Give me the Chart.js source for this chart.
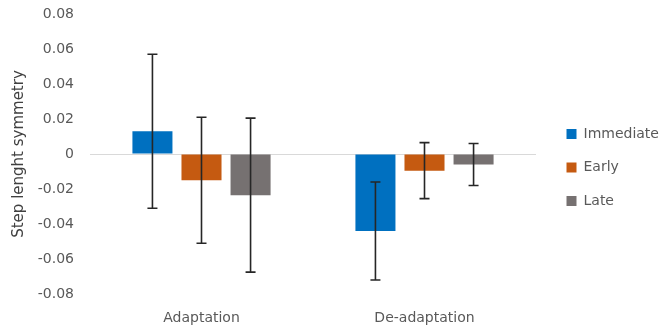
<!DOCTYPE html>
<html><head><meta charset="utf-8">
<script src="https://cdn.jsdelivr.net/npm/chart.js@4/dist/chart.umd.min.js"></script>
<style>html,body{margin:0;padding:0;background:#fff}#c{display:block}</style>
</head><body>
<canvas id="c" width="662" height="335"></canvas>
<script>
const categories = ['Adaptation', 'De-adaptation'];
const seriesNames = ['Immediate', 'Early', 'Late'];
const immediate = [0.013, -0.044];
const early = [-0.015, -0.0095];
const late = [-0.0235, -0.006];
const immediateErr = [0.044, 0.028];
const earlyErr = [0.036, 0.016];
const lateErr = [0.044, 0.012];
const yTicks = ['-0.08', '-0.06', '-0.04', '-0.02', '0', '0.02', '0.04', '0.06', '0.08'];
const colors = ['#0070C0', '#C55A11', '#767171'];
const FONT = '"DejaVu Sans", sans-serif';

const values = [immediate, early, late];
const errs = [immediateErr, earlyErr, lateErr];

const errorBars = {
  id: 'errorBars',
  afterDatasetsDraw(chart) {
    const ctx = chart.ctx, y = chart.scales.y;
    ctx.save();
    ctx.strokeStyle = '#262626';
    ctx.lineWidth = 1.6;
    chart.data.datasets.forEach((ds, i) => {
      const meta = chart.getDatasetMeta(i);
      meta.data.forEach((el, j) => {
        const v = ds.data[j], e = errs[i][j];
        const top = y.getPixelForValue(v + e), bot = y.getPixelForValue(v - e);
        const x = el.x;
        ctx.beginPath();
        ctx.moveTo(x, top); ctx.lineTo(x, bot);
        ctx.moveTo(x - 5, top); ctx.lineTo(x + 5, top);
        ctx.moveTo(x - 5, bot); ctx.lineTo(x + 5, bot);
        ctx.stroke();
      });
    });
    ctx.restore();
  }
};

const legendShift = {
  id: 'legendShift',
  afterLayout(chart) {
    if (chart.legend) { chart.legend.top -= 3; chart.legend.bottom -= 3; }
  }
};

const noPad = s => { s.paddingTop = 0; s.paddingBottom = 0; s.paddingLeft = 0; s.paddingRight = 0; };

new Chart(document.getElementById('c'), {
  type: 'bar',
  data: {
    labels: categories,
    datasets: seriesNames.map((n, i) => ({
      label: n, data: values[i], backgroundColor: colors[i], borderWidth: 0,
      barPercentage: 0.816, categoryPercentage: 0.66
    }))
  },
  options: {
    responsive: false, animation: false,
    layout: { padding: { top: 14, right: 2, left: 0, bottom: 8 } },
    plugins: {
      tooltip: { enabled: false },
      legend: {
        position: 'right', maxWidth: 113,
        labels: { boxWidth: 10, boxHeight: 10, padding: 19.5, color: '#595959', font: { family: FONT, size: 14 } }
      }
    },
    scales: {
      x: {
        grid: { display: false, drawTicks: false }, border: { display: false },
        afterFit(s) { s.height = 33; noPad(s); },
        ticks: { color: '#595959', padding: 16, font: { family: FONT, size: 14 } }
      },
      y: {
        min: -0.08, max: 0.08,
        afterBuildTicks(s) { s.ticks = yTicks.map(t => ({ value: parseFloat(t) })); },
        afterFit(s) { s.width = 90; noPad(s); },
        ticks: { color: '#595959', padding: 16, font: { family: FONT, size: 14 },
          callback: (v, i) => yTicks[i] },
        grid: { color: ctx => (ctx.tick && ctx.tick.value === 0) ? '#d9d9d9' : 'rgba(0,0,0,0)', drawTicks: false, lineWidth: 1 },
        border: { display: false },
        title: { display: true, text: 'Step lenght symmetry', color: '#404040', font: { family: FONT, size: 15 }, padding: { top: 10, bottom: 0 } }
      },
      gap: {
        type: 'linear', position: 'right', display: true,
        grid: { display: false, drawTicks: false }, border: { display: false },
        ticks: { display: false },
        afterFit(s) { s.width = 11; noPad(s); }
      }
    }
  },
  plugins: [errorBars, legendShift]
});
</script>
</body></html>
